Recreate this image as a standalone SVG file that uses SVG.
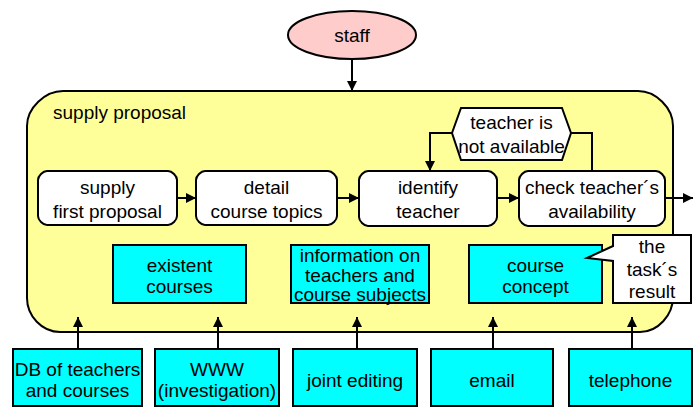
<svg xmlns="http://www.w3.org/2000/svg" width="694" height="408" viewBox="0 0 694 408">
  <style>
    text { font-family: "Liberation Sans", Arial, sans-serif; font-size: 19px; fill: #000; text-anchor: middle; }
    .frame { fill: #ffff99; stroke: #000; stroke-width: 2; }
    .step { fill: #fff; stroke: #000; stroke-width: 2; }
    .data { fill: #00ffff; stroke: #000; stroke-width: 2; }
    .actor { fill: #ffcccc; stroke: #000; stroke-width: 2; }
    .note { fill: #fff; stroke: #000; stroke-width: 2; stroke-linejoin: miter; }
    .link { fill: none; stroke: #000; stroke-width: 2; }
  </style>
  <defs>
    <marker id="arrow" viewBox="0 0 10 10" refX="10" refY="5" markerWidth="11" markerHeight="10" markerUnits="userSpaceOnUse" orient="auto">
      <path d="M0,0 L10,5 L0,10 Z" fill="#000"/>
    </marker>
  </defs>

  <!-- enclosing activity -->
  <g id="supply-proposal">
    <path class="frame" d="M63,91 H638 C656,91 673,108 673,126 V297 C673,315 658,332 640,332 H60 C42,332 27,316 27,298 V126 C27,108 45,91 63,91 Z"/>
    <text x="53" y="119" style="text-anchor:start">supply proposal</text>
  </g>

  <!-- actor -->
  <g id="staff">
    <ellipse class="actor" cx="352" cy="35" rx="64" ry="24"/>
    <text x="352" y="42">staff</text>
  </g>

  <!-- process steps -->
  <g id="supply-first-proposal">
    <path class="step" d="M47,171 H168 C172,171 177,176 177,180 V216 C177,220 172,225 168,225 H47 C43,225 38,220 38,216 V180 C38,176 43,171 47,171 Z"/>
    <text x="107.5" y="194">supply</text>
    <text x="107.5" y="218">first proposal</text>
  </g>
  <g id="detail-course-topics">
    <path class="step" d="M205,171 H328 C332,171 337,176 337,180 V216 C337,220 332,225 328,225 H205 C201,225 196,220 196,216 V180 C196,176 201,171 205,171 Z"/>
    <text x="266.5" y="194">detail</text>
    <text x="266.5" y="218">course topics</text>
  </g>
  <g id="identify-teacher">
    <path class="step" d="M368,171 H488 C492,171 497,176 497,180 V217 C497,221 492,226 488,226 H368 C364,226 359,221 359,217 V180 C359,176 364,171 368,171 Z"/>
    <text x="428" y="194">identify</text>
    <text x="428" y="218">teacher</text>
  </g>
  <g id="check-availability">
    <path class="step" d="M528,171 H656 C660,171 665,176 665,180 V217 C665,221 660,226 656,226 H528 C524,226 519,221 519,217 V180 C519,176 524,171 528,171 Z"/>
    <text x="592" y="194">check teacher´s</text>
    <text x="592" y="218">availability</text>
  </g>

  <!-- condition -->
  <g id="teacher-not-available">
    <polygon class="step" points="452,133 461,108 562,108 571,133 562,160 461,160"/>
    <text x="511.5" y="129">teacher is</text>
    <text x="511.5" y="153">not available</text>
  </g>

  <!-- information objects -->
  <g id="existent-courses">
    <rect class="data" x="113" y="245" width="133" height="58"/>
    <text x="179.5" y="272">existent</text>
    <text x="179.5" y="293">courses</text>
  </g>
  <g id="teacher-information">
    <rect class="data" x="291" y="245" width="138" height="58"/>
    <text x="360" y="262">information on</text>
    <text x="360" y="282">teachers and</text>
    <text x="360" y="301">course subjects</text>
  </g>
  <g id="course-concept">
    <rect class="data" x="469" y="245" width="133" height="58"/>
    <text x="535.5" y="272">course</text>
    <text x="535.5" y="293">concept</text>
  </g>
  <g id="task-result">
    <path class="note" d="M613,235 H691 V303 H613 V261 L587,258 L613,246 Z"/>
    <text x="652" y="253">the</text>
    <text x="652" y="276">task´s</text>
    <text x="652" y="298">result</text>
  </g>

  <!-- tools -->
  <g id="db-teachers-courses">
    <rect class="data" x="13" y="349" width="129" height="57"/>
    <text x="77.5" y="376">DB of teachers</text>
    <text x="77.5" y="397">and courses</text>
  </g>
  <g id="www">
    <rect class="data" x="155" y="349" width="124" height="57"/>
    <text x="217" y="376">WWW</text>
    <text x="217" y="397">(investigation)</text>
  </g>
  <g id="joint-editing">
    <rect class="data" x="293" y="349" width="124" height="57"/>
    <text x="355" y="387">joint editing</text>
  </g>
  <g id="email">
    <rect class="data" x="431" y="349" width="122" height="57"/>
    <text x="492" y="387">email</text>
  </g>
  <g id="telephone">
    <rect class="data" x="569" y="349" width="123" height="57"/>
    <text x="630.5" y="387">telephone</text>
  </g>

  <!-- connectors -->
  <g id="connectors">
    <line class="link" x1="352" y1="59" x2="352" y2="91" marker-end="url(#arrow)"/>
    <line class="link" x1="177" y1="198" x2="196" y2="198" marker-end="url(#arrow)"/>
    <line class="link" x1="337" y1="198" x2="359" y2="198" marker-end="url(#arrow)"/>
    <line class="link" x1="497" y1="198" x2="519" y2="198" marker-end="url(#arrow)"/>
    <line class="link" x1="665" y1="198" x2="693" y2="198" marker-end="url(#arrow)"/>
    <polyline class="link" points="452,133 430,133 430,171" marker-end="url(#arrow)"/>
    <polyline class="link" points="571,133 592,133 592,171"/>
    <line class="link" x1="78" y1="349" x2="78" y2="317" marker-end="url(#arrow)"/>
    <line class="link" x1="218" y1="349" x2="218" y2="317" marker-end="url(#arrow)"/>
    <line class="link" x1="357" y1="349" x2="357" y2="317" marker-end="url(#arrow)"/>
    <line class="link" x1="493" y1="349" x2="493" y2="317" marker-end="url(#arrow)"/>
    <line class="link" x1="632" y1="349" x2="632" y2="317" marker-end="url(#arrow)"/>
  </g>
</svg>
